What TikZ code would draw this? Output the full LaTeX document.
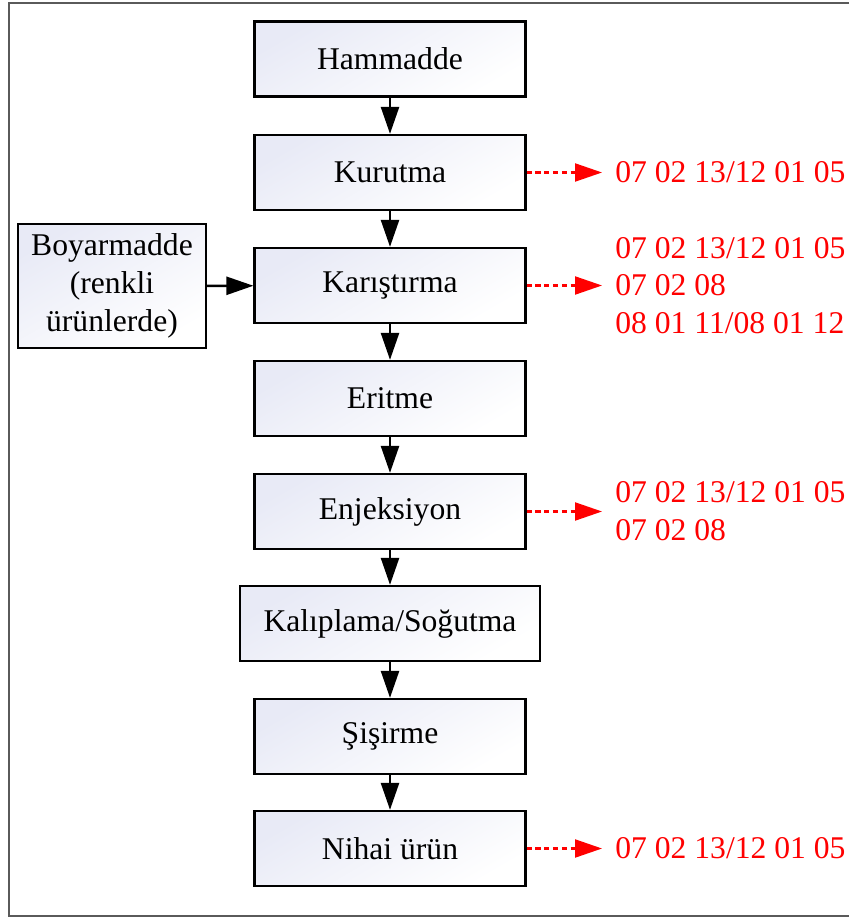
\documentclass[tikz,border=0pt]{standalone}
\usepackage{fontspec}
\setmainfont{Liberation Serif}
\usepackage{tikz}
\usetikzlibrary{calc, positioning, arrows.meta}
\usepackage{xcolor}
\definecolor{boxfill}{RGB}{232, 234, 246}
\definecolor{wastered}{RGB}{255, 0, 0}
\definecolor{frame}{RGB}{90, 90, 90}

\begin{document}
\begin{tikzpicture}[x=0.02cm, y=-0.02cm,
  step box/.style={draw=black, line width=1.3pt, top color=boxfill, bottom color=white,
    shading angle=30, minimum width=5.42cm, minimum height=1.5cm, inner sep=0pt,
    font=\fontsize{18}{21.5}\selectfont},
  flow/.style={-{Triangle[length=0.54cm, width=0.36cm]}, line width=1.4pt},
  waste/.style={-{Triangle[length=0.54cm, width=0.36cm]}, wastered, line width=1.2pt,
    dash pattern=on 3pt off 2pt},
  code/.style={anchor=west, align=left, text=wastered, inner xsep=0.26cm, inner ysep=0pt,
    font=\fontsize{18}{21.5}\selectfont}]
  \useasboundingbox (0,0) rectangle (849,918);
  % frame, open on the right
  \draw[frame, line width=1.1pt] (849,3) -- (9,3) -- (9,916) -- (849,916);

  % --- Process chain ---
  \node[step box] (hammadde) at (390,59) {Hammadde};
  \node[step box] (kurutma) at (390,172.5) {Kurutma};
  \node[step box] (karistirma) at (390,285.5) {Karıştırma};
  \node[step box] (eritme) at (390,398.5) {Eritme};
  \node[step box] (enjeksiyon) at (390,511.5) {Enjeksiyon};
  \node[step box, minimum width=6cm] (kaliplama) at (390,623.5) {Kalıplama/Soğutma};
  \node[step box] (sisirme) at (390,736.5) {Şişirme};
  \node[step box] (nihai) at (390,848.5) {Nihai ürün};

  \draw[flow] (hammadde) -- (kurutma);
  \draw[flow] (kurutma) -- (karistirma);
  \draw[flow] (karistirma) -- (eritme);
  \draw[flow] (eritme) -- (enjeksiyon);
  \draw[flow] (enjeksiyon) -- (kaliplama);
  \draw[flow] (kaliplama) -- (sisirme);
  \draw[flow] (sisirme) -- (nihai);

  % --- Dye input ---
  \node[step box, minimum width=3.76cm, minimum height=2.48cm, align=center]
    (boyar) at (112,286) {Boyarmadde\\(renkli\\ürünlerde)};
  \draw[flow] (boyar) -- (karistirma);

  % --- Waste codes ---
  \node[code] (w1) at (602,172.5) {07 02 13/12 01 05};
  \node[code] (w2) at (602,285.5) {07 02 13/12 01 05\\07 02 08\\08 01 11/08 01 12};
  \node[code] (w3) at (602,511.5) {07 02 13/12 01 05\\07 02 08};
  \node[code] (w4) at (602,848.5) {07 02 13/12 01 05};
  \draw[waste] (kurutma) -- (w1);
  \draw[waste] (karistirma) -- (w2);
  \draw[waste] (enjeksiyon) -- (w3);
  \draw[waste] (nihai) -- (w4);
\end{tikzpicture}
\end{document}
